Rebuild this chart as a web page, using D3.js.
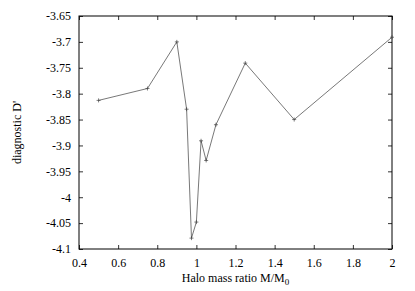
<!DOCTYPE html>
<html>
<head>
<meta charset="utf-8">
<script src="https://cdn.jsdelivr.net/npm/d3@7"></script>
<style>
  body { margin: 0; background: #fff; }
  svg text { font-family: "Liberation Serif", "DejaVu Serif", serif !important; fill: #000; }
</style>
</head>
<body>
<div id="chart"></div>
<script>
// Data
const massRatio = [0.5, 0.75, 0.9, 0.95, 0.975, 1.0, 1.024, 1.05, 1.1, 1.25, 1.5, 2.0];
const diagD = [-3.813, -3.79, -3.70, -3.83, -4.079, -4.048, -3.891, -3.929, -3.86, -3.741, -3.85, -3.691];
const xTicks = [0.4, 0.6, 0.8, 1, 1.2, 1.4, 1.6, 1.8, 2];
const yTicks = [-4.1, -4.05, -4, -3.95, -3.9, -3.85, -3.8, -3.75, -3.7, -3.65];

const W = 415, H = 291;
const margin = { top: 16, right: 23, bottom: 42, left: 79 };
const width = W - margin.left - margin.right;
const height = H - margin.top - margin.bottom;

const svg = d3.select("#chart").append("svg")
  .attr("width", W)
  .attr("height", H);

const g = svg.append("g").attr("transform", `translate(${margin.left},${margin.top})`);

const x = d3.scaleLinear().domain([0.4, 2]).range([0, width]);
const y = d3.scaleLinear().domain([-4.1, -3.65]).range([height, 0]);

const fmt = d => String(+d.toFixed(2));

// axes, ticks pointing inward, mirrored on top and right
const axB = d3.axisBottom(x).tickValues(xTicks).tickSize(-4).tickSizeOuter(0).tickPadding(9).tickFormat(fmt);
const axT = d3.axisTop(x).tickValues(xTicks).tickSize(-4).tickSizeOuter(0).tickFormat("");
const axL = d3.axisLeft(y).tickValues(yTicks).tickSize(-4).tickSizeOuter(0).tickPadding(8).tickFormat(fmt);
const axR = d3.axisRight(y).tickValues(yTicks).tickSize(-4).tickSizeOuter(0).tickFormat("");

g.append("g").attr("transform", `translate(0,${height})`).call(axB);
g.append("g").call(axT);
g.append("g").call(axL);
g.append("g").attr("transform", `translate(${width},0)`).call(axR);

g.selectAll(".domain").remove();
g.selectAll(".tick line").attr("stroke", "#333");
g.selectAll(".tick text")
  .attr("font-family", "Liberation Serif")
  .attr("font-size", 12);

g.append("rect")
  .attr("x", 0).attr("y", 0)
  .attr("width", width).attr("height", height)
  .attr("fill", "none").attr("stroke", "#000").attr("stroke-width", 1);

// data line
const pts = massRatio.map((m, i) => [m, diagD[i]]);
const line = d3.line().x(d => x(d[0])).y(d => y(d[1]));

g.append("path")
  .datum(pts)
  .attr("fill", "none")
  .attr("stroke", "#555")
  .attr("stroke-width", 0.8)
  .attr("d", line);

// "+" markers
g.selectAll(".pt")
  .data(pts)
  .join("path")
  .attr("class", "pt")
  .attr("d", d => {
    const px = x(d[0]), py = y(d[1]), s = 2;
    return `M${px - s},${py}H${px + s}M${px},${py - s}V${py + s}`;
  })
  .attr("stroke", "#444")
  .attr("stroke-width", 0.7);

// axis labels
const xl = svg.append("text")
  .attr("x", margin.left + width / 2)
  .attr("y", 282)
  .attr("text-anchor", "middle")
  .style("font-size", "12px");
xl.append("tspan").text("Halo mass ratio M/M");
xl.append("tspan").attr("dy", 3).style("font-size", "9px").text("0");

svg.append("text")
  .attr("transform", `translate(21,${margin.top + height / 2}) rotate(-90)`)
  .attr("text-anchor", "middle")
  .style("font-size", "12px")
  .text("diagnostic D'");
</script>
</body>
</html>
